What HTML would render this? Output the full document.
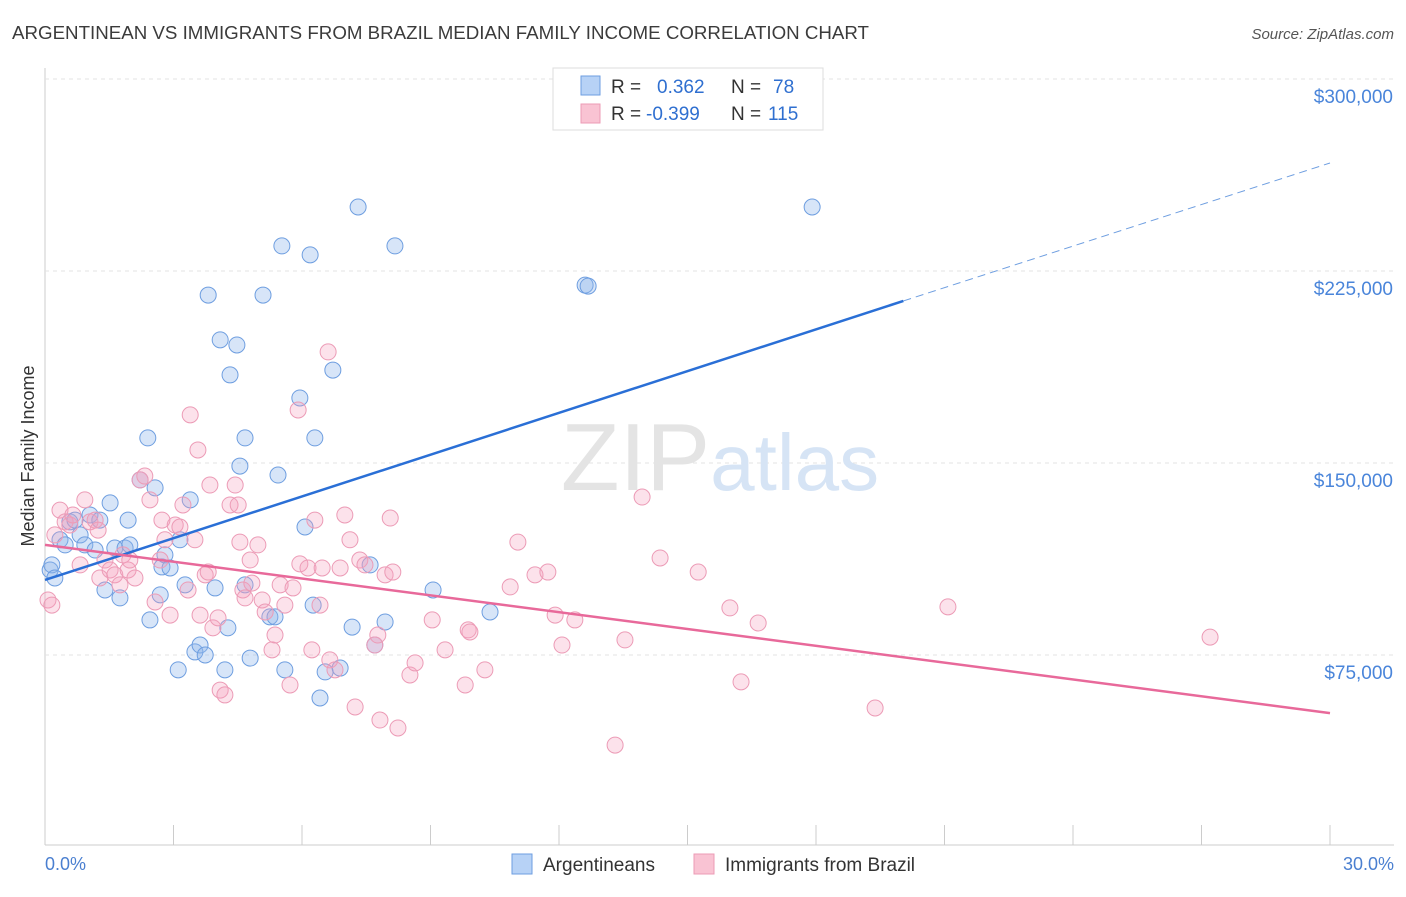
<!DOCTYPE html>
<html><head><meta charset="utf-8"><style>
body{margin:0;background:#fff;font-family:"Liberation Sans",sans-serif;}
svg text{font-family:"Liberation Sans",sans-serif;}
</style></head><body>
<svg id="chart" width="1406" height="892" xmlns="http://www.w3.org/2000/svg">
<text x="12" y="39" font-size="18" fill="#3b3b3b" textLength="857" lengthAdjust="spacingAndGlyphs">ARGENTINEAN VS IMMIGRANTS FROM BRAZIL MEDIAN FAMILY INCOME CORRELATION CHART</text>
<text x="1394" y="39" font-size="15" fill="#555" text-anchor="end" font-style="italic">Source: ZipAtlas.com</text>
<g id="grid"></g>
<text x="720" y="490" font-size="96" text-anchor="middle" fill="#e4e4e4" font-family="Liberation Serif">ZIP<tspan fill="#d6e4f5" font-family="Liberation Sans" font-size="80">atlas</tspan></text>
<text transform="translate(34,456) rotate(-90)" font-size="18" fill="#333" text-anchor="middle">Median Family Income</text>
<g id="marks"></g>
<g id="lines"></g>
<g>
<rect x="553" y="68" width="270" height="62" fill="#fff" stroke="#ddd"/>
<rect x="581" y="76" width="19" height="19" fill="#b7d2f6" stroke="#6e9ee0"/>
<rect x="581" y="104" width="19" height="19" fill="#f9c3d3" stroke="#ec9bb6"/>
<text x="611" y="93" font-size="19" fill="#333">R =</text>
<text x="657" y="93" font-size="19" fill="#2f6fd0">0.362</text>
<text x="731" y="93" font-size="19" fill="#333">N =</text>
<text x="773" y="93" font-size="19" fill="#2f6fd0">78</text>
<text x="611" y="120" font-size="19" fill="#333">R =</text>
<text x="646" y="120" font-size="19" fill="#2f6fd0">-0.399</text>
<text x="731" y="120" font-size="19" fill="#333">N =</text>
<text x="768" y="120" font-size="19" fill="#2f6fd0">115</text>
</g>
<g>
<rect x="512" y="854" width="20" height="20" fill="#b7d2f6" stroke="#6e9ee0"/>
<text x="543" y="871" font-size="19" fill="#333">Argentineans</text>
<rect x="694" y="854" width="20" height="20" fill="#f9c3d3" stroke="#ec9bb6"/>
<text x="725" y="871" font-size="19" fill="#333">Immigrants from Brazil</text>
</g>
<text x="45" y="870" font-size="18" fill="#4a7fd0">0.0%</text>
<text x="1394" y="870" font-size="18" fill="#4a7fd0" text-anchor="end">30.0%</text>
</svg>
<script>
const yTicks=[75000,150000,225000,300000];
const yTickLabels=["$75,000","$150,000","$225,000","$300,000"];
const xTicks=[0,3,6,9,12,15,18,21,24,27,30];
const blueX=[0.12,0.16,0.23,0.35,0.47,0.58,0.70,0.82,0.93,1.05,1.17,1.28,1.40,1.52,1.63,1.75,1.87,1.94,1.98,2.22,2.40,2.45,2.57,2.69,2.73,2.80,2.92,3.15,3.11,3.27,3.39,3.50,3.62,3.74,3.81,3.97,4.09,4.20,4.27,4.32,4.48,4.55,4.67,4.67,4.79,5.09,5.25,5.37,5.44,5.53,5.60,5.95,6.07,6.19,6.26,6.30,6.42,6.54,6.72,6.89,7.17,7.31,7.59,7.70,7.94,8.17,9.06,10.39,12.61,12.68,17.91];
const blueY=[108.2,110.2,105.1,120.0,118.0,127.0,127.7,121.9,118.0,129.7,116.0,127.7,100.4,134.4,116.8,97.3,116.8,127.7,118.0,143.4,159.8,88.7,140.3,98.5,109.4,114.1,109.0,120.0,69.2,102.4,135.6,76.2,78.9,75.0,215.6,101.2,198.1,69.2,85.6,184.4,196.1,148.8,159.8,102.4,73.8,215.6,89.9,89.9,145.3,234.8,69.2,175.4,125.0,231.3,94.5,159.8,58.2,68.4,186.3,69.9,85.9,250.0,110.2,78.9,87.9,234.8,100.4,91.8,219.5,219.1,250.0];
const pinkX=[0.07,0.16,0.23,0.35,0.47,0.58,0.65,0.82,0.93,1.05,1.17,1.24,1.28,1.40,1.52,1.63,1.75,1.82,1.94,1.98,2.10,2.22,2.33,2.45,2.57,2.69,2.73,2.80,2.92,3.04,3.15,3.22,3.34,3.39,3.50,3.57,3.62,3.74,3.81,3.85,3.92,4.04,4.09,4.20,4.32,4.44,4.51,4.55,4.62,4.67,4.79,4.83,4.97,5.07,5.14,5.30,5.37,5.49,5.60,5.72,5.79,5.91,5.95,6.14,6.23,6.30,6.42,6.47,6.61,6.65,6.77,6.89,7.00,7.12,7.24,7.35,7.47,7.70,7.77,7.82,7.94,8.06,8.12,8.24,8.52,8.64,9.04,9.34,9.81,9.88,9.92,10.27,10.86,11.04,11.44,11.74,11.91,12.07,12.37,13.31,13.54,13.94,14.36,15.25,15.99,16.25,16.65,19.38,21.08,27.20];
const pinkY=[96.5,94.5,121.9,131.6,127.0,125.8,129.7,110.2,135.6,127.0,127.7,123.8,105.1,112.1,108.2,106.3,102.4,114.1,108.2,112.1,105.1,143.4,144.9,135.6,95.7,112.1,127.7,120.0,90.6,125.8,125.0,133.6,100.4,168.8,120.0,155.1,90.6,106.3,107.4,141.4,85.6,89.5,61.3,59.4,133.6,141.4,133.6,119.1,100.4,97.3,112.1,103.1,118.0,96.5,91.8,77.0,82.8,102.4,94.5,63.3,101.2,170.7,110.6,109.0,77.0,127.7,94.5,109.0,193.4,73.1,69.2,109.0,129.7,120.0,54.7,112.1,110.2,78.9,82.8,49.6,106.3,128.5,107.4,46.5,67.2,71.9,88.7,77.0,63.3,84.8,84.0,69.2,101.6,119.1,106.3,107.4,90.6,78.9,88.7,39.8,80.9,136.7,112.9,107.4,93.4,64.5,87.5,54.3,93.8,82.0];
const blueTrendX=[0,20.04,30];
const blueTrendY=[104.3,213.3,267.2];
const pinkTrendX=[0,30];
const pinkTrendY=[118.0,52.3];

const NS="http://www.w3.org/2000/svg";
function sx(p){return 45+p/30*1285;}
function sy(k){return 79+(300-k)/75*192;}
function el(t,a,parent){const e=document.createElementNS(NS,t);for(const k in a)e.setAttribute(k,a[k]);parent.appendChild(e);return e;}
const grid=document.getElementById('grid');
const axisLine=el('line',{x1:45,y1:68,x2:45,y2:845,stroke:'#ccc'},grid);


const xLine=el('line',{x1:45,y1:845,x2:1394,y2:845,stroke:'#ccc'},grid);


yTicks.forEach((v,i)=>{
  const g=el('line',{x1:45,y1:sy(v/1000),x2:1394,y2:sy(v/1000),stroke:'#e3e3e3','stroke-dasharray':'4,4'},grid);
  
  
  const t=el('text',{x:1393,y:sy(v/1000)+24,'font-size':19,fill:'#4a85da','text-anchor':'end'},grid);
  t.textContent=yTickLabels[i];
  
  
});
xTicks.forEach(p=>{
  const t=el('line',{x1:sx(p),y1:825,x2:sx(p),y2:845,stroke:'#ccc'},grid);
  
  
});
const marks=document.getElementById('marks');
blueX.forEach((x,i)=>{
  const c=el('circle',{cx:sx(x),cy:sy(blueY[i]),r:8,fill:'rgba(140,180,235,0.35)',stroke:'#6e9ee0','stroke-width':1},marks);
  
  
});
pinkX.forEach((x,i)=>{
  const c=el('circle',{cx:sx(x),cy:sy(pinkY[i]),r:8,fill:'rgba(245,160,190,0.3)',stroke:'#ec9bb6','stroke-width':1},marks);
  
  
});
const lines=document.getElementById('lines');
const b1=el('line',{x1:sx(blueTrendX[0]),y1:sy(blueTrendY[0]),x2:sx(blueTrendX[1]),y2:sy(blueTrendY[1]),stroke:'#2a6fd6','stroke-width':2.5},lines);


const b2=el('line',{x1:sx(blueTrendX[1]),y1:sy(blueTrendY[1]),x2:sx(blueTrendX[2]),y2:sy(blueTrendY[2]),stroke:'#6e9ee0','stroke-width':1,'stroke-dasharray':'8,5'},lines);


const p1=el('line',{x1:sx(pinkTrendX[0]),y1:sy(pinkTrendY[0]),x2:sx(pinkTrendX[1]),y2:sy(pinkTrendY[1]),stroke:'#e8699a','stroke-width':2.5},lines);


</script>
</body></html>
